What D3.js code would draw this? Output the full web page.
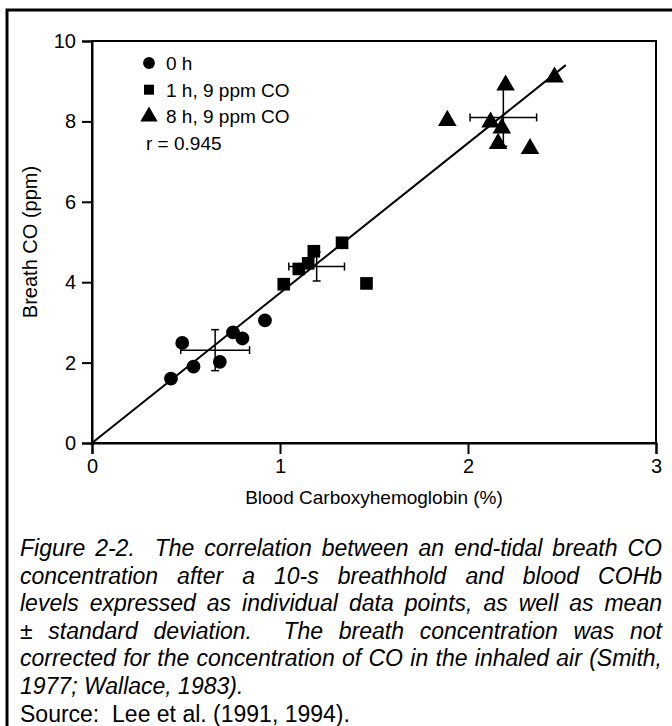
<!DOCTYPE html>
<html>
<head>
<meta charset="utf-8">
<script src="https://cdn.jsdelivr.net/npm/d3@7"></script>
<style>
  html, body { margin: 0; padding: 0; background: #fff; }
  svg { display: block; }
  text { font-family: "Liberation Sans", Arial, Helvetica, sans-serif; fill: #000; }
</style>
</head>
<body>
<svg id="chart" width="672" height="726"></svg>
<script>
// Axis ticks
const xTicks = [0, 1, 2, 3];
const yTicks = [0, 2, 4, 6, 8, 10];

// 0 h (baseline) – circles
const h0X = [0.42, 0.48, 0.54, 0.68, 0.75, 0.80, 0.92];
const h0Y = [1.60, 2.49, 1.90, 2.02, 2.75, 2.60, 3.05];

// 1 h, 9 ppm CO – squares
const h1X = [1.02, 1.10, 1.15, 1.18, 1.33, 1.46];
const h1Y = [3.95, 4.33, 4.47, 4.77, 4.98, 3.97];

// 8 h, 9 ppm CO – triangles
const h8X = [1.89, 2.12, 2.16, 2.18, 2.20, 2.33, 2.46];
const h8Y = [8.02, 7.98, 7.45, 7.83, 8.90, 7.32, 9.10];

// Group mean ± SD
const meanX = [0.655, 1.195, 2.188];
const meanY = [2.31, 4.39, 8.10];
const sdX   = [0.183, 0.148, 0.177];
const sdY   = [0.51, 0.36, 0.72];

// Regression through the origin
const fitSlope = 3.73;
const fitXRange = [0, 2.52];

const legendLabels = ["0 h", "1 h, 9 ppm CO", "8 h, 9 ppm CO"];
const statLabel = "r = 0.945";

const captionLines = [
  "Figure 2-2.  The correlation between an end-tidal breath CO",
  "concentration after a 10-s breathhold and blood COHb",
  "levels expressed as individual data points, as well as mean",
  "\u00B1 standard deviation.  The breath concentration was not",
  "corrected for the concentration of CO in the inhaled air (Smith,",
  "1977; Wallace, 1983)."
];
const sourceLine = "Source:  Lee et al. (1991, 1994).";

const FONT = "Liberation Sans, Arial, Helvetica, sans-serif";
const svg = d3.select("#chart");

// Outer figure frame
svg.append("rect")
  .attr("x", 7).attr("y", 10).attr("width", 720).attr("height", 760)
  .attr("fill", "none").attr("stroke", "#000").attr("stroke-width", 3);

const plot = { left: 92, right: 656, top: 41, bottom: 443 };
const x = d3.scaleLinear().domain([0, 3]).range([plot.left, plot.right]);
const y = d3.scaleLinear().domain([0, 10]).range([plot.bottom, plot.top]);

// Plot border
svg.append("rect")
  .attr("x", plot.left).attr("y", plot.top)
  .attr("width", plot.right - plot.left).attr("height", plot.bottom - plot.top)
  .attr("fill", "none").attr("stroke", "#000").attr("stroke-width", 2);

const xAxis = svg.append("g")
  .attr("transform", `translate(0,${plot.bottom})`)
  .call(d3.axisBottom(x).tickValues(xTicks).tickFormat(d3.format("d")).tickSize(11).tickPadding(5));
const yAxis = svg.append("g")
  .attr("transform", `translate(${plot.left},0)`)
  .call(d3.axisLeft(y).tickValues(yTicks).tickFormat(d3.format("d")).tickSize(10).tickPadding(6));
[xAxis, yAxis].forEach(g => {
  g.attr("font-size", 20).attr("font-family", FONT);
  g.select(".domain").attr("stroke-width", 2);
  g.selectAll(".tick line").attr("stroke-width", 2);
  g.selectAll(".tick text").attr("fill", "#000");
});

// Axis titles
svg.append("text")
  .attr("x", (plot.left + plot.right) / 2).attr("y", 504)
  .attr("text-anchor", "middle").attr("font-size", 19)
  .text("Blood Carboxyhemoglobin (%)");
svg.append("text")
  .attr("transform", `translate(37,${(plot.top + plot.bottom) / 2}) rotate(-90)`)
  .attr("text-anchor", "middle").attr("font-size", 20)
  .text("Breath CO (ppm)");

// Regression line
svg.append("line")
  .attr("x1", x(fitXRange[0])).attr("y1", y(fitSlope * fitXRange[0]))
  .attr("x2", x(fitXRange[1])).attr("y2", y(fitSlope * fitXRange[1]))
  .attr("stroke", "#000").attr("stroke-width", 2);

// Error bars (mean ± SD)
const cap = 4;
const eb = svg.append("g").attr("stroke", "#000").attr("stroke-width", 1.5);
meanX.forEach((mx, i) => {
  const cx = x(mx), cy = y(meanY[i]);
  const x0 = x(mx - sdX[i]), x1 = x(mx + sdX[i]);
  const y0 = y(meanY[i] - sdY[i]), y1 = y(meanY[i] + sdY[i]);
  eb.append("line").attr("x1", x0).attr("x2", x1).attr("y1", cy).attr("y2", cy);
  eb.append("line").attr("x1", x0).attr("x2", x0).attr("y1", cy - cap).attr("y2", cy + cap);
  eb.append("line").attr("x1", x1).attr("x2", x1).attr("y1", cy - cap).attr("y2", cy + cap);
  eb.append("line").attr("x1", cx).attr("x2", cx).attr("y1", y0).attr("y2", y1);
  eb.append("line").attr("x1", cx - cap).attr("x2", cx + cap).attr("y1", y0).attr("y2", y0);
  eb.append("line").attr("x1", cx - cap).attr("x2", cx + cap).attr("y1", y1).attr("y2", y1);
});

// Markers
const symCircle = d3.symbol().type(d3.symbolCircle).size(150);
const symSquare = d3.symbol().type(d3.symbolSquare).size(160);
const symTriangle = d3.symbol().type(d3.symbolTriangle).size(150);

function drawSeries(xs, ys, sym) {
  svg.append("g").selectAll("path").data(xs.map((v, i) => [v, ys[i]])).join("path")
    .attr("d", sym)
    .attr("transform", d => `translate(${x(d[0])},${y(d[1])})`)
    .attr("fill", "#000");
}
drawSeries(h0X, h0Y, symCircle);
drawSeries(h1X, h1Y, symSquare);
drawSeries(h8X, h8Y, symTriangle);

// Legend
const legendSyms = [
  d3.symbol().type(d3.symbolCircle).size(110),
  d3.symbol().type(d3.symbolSquare).size(100),
  d3.symbol().type(d3.symbolTriangle).size(130)
];
const legRow = 26.7, legTop = 63;
legendLabels.forEach((lab, i) => {
  const ly = legTop + i * legRow;
  svg.append("path").attr("d", legendSyms[i]()).attr("transform", `translate(149,${ly})`).attr("fill", "#000");
  svg.append("text").attr("x", 166).attr("y", ly + 7).attr("font-size", 19).text(lab);
});
svg.append("text").attr("x", 146).attr("y", legTop + 3 * legRow + 7).attr("font-size", 19).text(statLabel);

// Caption: justified italic paragraph set in a condensed face
const capLeft = 20, capRight = 662, capTop = 556, capStep = 27.6, capSize = 23;
const probe = svg.append("text").attr("font-size", capSize).attr("font-style", "italic");
const widest = d3.max(captionLines.slice(0, -1), l => probe.text(l.replace(/\s+/g, " ")).node().getComputedTextLength());
probe.remove();
const sx = Math.min(1, (capRight - capLeft) / widest);
const capG = svg.append("g").attr("transform", `translate(${capLeft},0) scale(${sx},1)`);
const span = (capRight - capLeft) / sx;

captionLines.forEach((line, i) => {
  const by = capTop + i * capStep;
  if (i === captionLines.length - 1) {
    capG.append("text").attr("x", 0).attr("y", by)
      .attr("font-size", capSize).attr("font-style", "italic").text(line);
    return;
  }
  // a double space after a sentence gets a double-width gap
  const tokens = line.split(" ");
  const words = [], gapsBefore = [];
  let pending = 0;
  tokens.forEach(t => {
    if (t === "") { pending += 1; return; }
    gapsBefore.push(words.length ? pending + 1 : 0);
    words.push(t);
    pending = 0;
  });
  const nodes = words.map(w => capG.append("text")
    .attr("y", by).attr("font-size", capSize).attr("font-style", "italic").text(w));
  const widths = nodes.map(n => n.node().getComputedTextLength());
  const gapUnits = d3.sum(gapsBefore);
  const gap = (span - d3.sum(widths)) / gapUnits;
  let cx = 0;
  nodes.forEach((n, k) => { cx += gapsBefore[k] * gap; n.attr("x", cx); cx += widths[k]; });
});
capG.append("text").attr("x", 0).attr("y", capTop + captionLines.length * capStep)
  .attr("font-size", capSize).attr("xml:space", "preserve").text(sourceLine);
</script>
</body>
</html>
